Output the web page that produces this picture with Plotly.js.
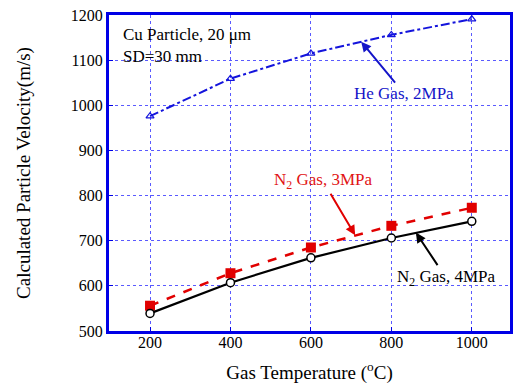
<!DOCTYPE html>
<html>
<head>
<meta charset="utf-8">
<script src="https://cdn.plot.ly/plotly-3.0.1.min.js"></script>
<style>html,body{margin:0;padding:0;background:#fff}#chart{width:513px;height:390px}</style>
</head>
<body>
<div id="chart"></div>
<script>
var temperature = [200, 400, 600, 800, 1000];
var heGas2MPa = [976, 1059, 1115, 1156, 1191];
var n2Gas3MPa = [556, 628, 685, 733, 773];
var n2Gas4MPa = [539, 607, 662, 706, 743];
var xTicks = [200, 400, 600, 800, 1000];
var yTicks = [500, 600, 700, 800, 900, 1000, 1100, 1200];

var serif = "Liberation Serif, Times New Roman, serif";
var blue = "rgb(0,0,230)";

var traces = [
  {x: temperature, y: heGas2MPa, type: "scatter", mode: "lines+markers",
   line: {color: "rgb(20,20,220)", width: 2, dash: "dashdot"},
   marker: {symbol: "triangle-up-open", size: 7, color: "rgb(20,20,220)", line: {width: 1.2}}},
  {x: temperature, y: n2Gas3MPa, type: "scatter", mode: "lines+markers",
   line: {color: "rgb(225,0,0)", width: 2.5, dash: "dash"},
   marker: {symbol: "square", size: 10, color: "rgb(225,0,0)"}},
  {x: temperature, y: n2Gas4MPa, type: "scatter", mode: "lines+markers",
   line: {color: "black", width: 2.2},
   marker: {symbol: "circle", size: 8, color: "white", line: {color: "black", width: 1.5}}}
];

var layout = {
  width: 513, height: 390,
  margin: {l: 109, r: 3, t: 15, b: 59},
  paper_bgcolor: "white", plot_bgcolor: "white",
  showlegend: false,
  font: {family: serif, size: 16, color: "black"},
  xaxis: {
    range: [98, 1095], tickvals: xTicks, ticktext: xTicks.map(String),
    showline: true, mirror: true, linecolor: blue, linewidth: 3,
    ticks: "inside", ticklen: 4, tickcolor: blue, tickwidth: 1,
    showgrid: true, gridcolor: "rgb(90,90,255)", griddash: "dot", gridwidth: 1,
    zeroline: false, ticklabelstandoff: -5,
    tickfont: {family: serif, size: 16, color: "black"},
    title: {text: "Gas Temperature (<sup>o</sup>C)", font: {family: serif, size: 19, color: "black"}, standoff: 16}
  },
  yaxis: {
    range: [500, 1200], tickvals: yTicks, ticktext: yTicks.map(String),
    showline: true, mirror: true, linecolor: blue, linewidth: 3,
    ticks: "inside", ticklen: 4, tickcolor: blue, tickwidth: 1,
    showgrid: true, gridcolor: "rgb(90,90,255)", griddash: "dot", gridwidth: 1,
    zeroline: false,
    tickfont: {family: serif, size: 16, color: "black"},
    title: {text: "Calculated Particle Velocity(m/s)", font: {family: serif, size: 19, color: "black"}, standoff: 36}
  },
  annotations: [
    {xref: "paper", yref: "paper", x: 0.03, y: 0.975, xanchor: "left", yanchor: "top",
     text: "Cu Particle, 20 μm<br>SD=30 mm", showarrow: false, align: "left",
     font: {family: serif, size: 17, color: "black"}},
    {xref: "x", yref: "y", x: 725, y: 1141, ax: 43, ay: 52,
     text: "He Gas, 2MPa", showarrow: true, arrowhead: 2, arrowsize: 1, arrowwidth: 2,
     arrowcolor: "rgb(20,20,200)", font: {family: serif, size: 17, color: "rgb(20,20,200)"}},
    {xref: "x", yref: "y", x: 710, y: 712, ax: -32, ay: -54,
     text: "N<sub>2</sub> Gas, 3MPa", showarrow: true, arrowhead: 2, arrowsize: 1, arrowwidth: 2,
     arrowcolor: "rgb(225,0,0)", font: {family: serif, size: 17, color: "rgb(225,20,20)"}},
    {xref: "x", yref: "y", x: 861, y: 718, ax: 30, ay: 45,
     text: "N<sub>2</sub> Gas, 4MPa", showarrow: true, arrowhead: 2, arrowsize: 1, arrowwidth: 2,
     arrowcolor: "black", font: {family: serif, size: 17, color: "black"}}
  ]
};

Plotly.newPlot("chart", traces, layout, {displayModeBar: false, staticPlot: true});
</script>
</body>
</html>
